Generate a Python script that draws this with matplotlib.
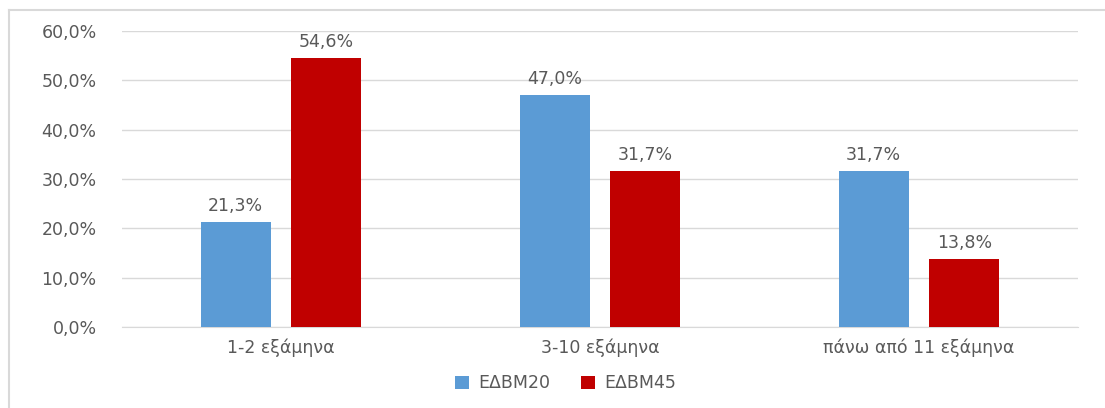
import matplotlib
matplotlib.use("Agg")
import matplotlib.pyplot as plt
from matplotlib.lines import Line2D
import numpy as np

categories = ["1-2 εξάμηνα", "3-10 εξάμηνα", "πάνω από 11 εξάμηνα"]
edbm20 = [21.3, 47.0, 31.7]
edbm45 = [54.6, 31.7, 13.8]
series_names = ["ΕΔΒΜ20", "ΕΔΒΜ45"]
yticks = [0, 10, 20, 30, 40, 50, 60]

plt.rcParams["font.family"] = ["DejaVu Sans"]
text_col = "#595959"
fs = 12.5

fig = plt.figure(figsize=(11.05, 4.08), dpi=100)
ax = fig.add_axes([0.110, 0.1985, 0.866, 0.7255])

x = np.arange(len(categories))
w = 0.219
b1 = ax.bar(x - 0.142, edbm20, w, color="#5B9BD5", label=series_names[0], zorder=3)
b2 = ax.bar(x + 0.142, edbm45, w, color="#C00000", label=series_names[1], zorder=3)

for bars in (b1, b2):
    for r in bars:
        h = r.get_height()
        ax.annotate(f"{h:.1f}%".replace(".", ","), (r.get_x() + r.get_width() / 2, h),
                    xytext=(0, 5), textcoords="offset points", ha="center", va="bottom",
                    fontsize=fs, color=text_col)

ax.set_xlim(-0.5, 2.5)
ax.set_ylim(0, 60)
ax.set_yticks(yticks)
ax.set_yticklabels([f"{t:.1f}%".replace(".", ",") for t in yticks])
ax.set_xticks(x)
ax.set_xticklabels(categories)
ax.tick_params(axis="both", length=0, labelsize=fs, colors=text_col)
ax.tick_params(axis="y", pad=18)
ax.tick_params(axis="x", pad=8)
ax.grid(axis="y", color="#D9D9D9", linewidth=1, zorder=0)
for s in ["top", "right", "left"]:
    ax.spines[s].set_visible(False)
ax.spines["bottom"].set_color("#D9D9D9")

ax.legend(loc="center", bbox_to_anchor=(0.464, -0.19), ncol=2, frameon=False,
          fontsize=fs, labelcolor=text_col, handlelength=0.8, handleheight=0.8,
          columnspacing=1.8, handletextpad=0.5)

# chart frame
fig.add_artist(Line2D([9 / 1105, 9 / 1105], [0, 1 - 10 / 408], color="#D9D9D9", lw=1.5))
fig.add_artist(Line2D([9 / 1105, 1], [1 - 10 / 408, 1 - 10 / 408], color="#D9D9D9", lw=1.5))

fig.savefig("out.png", dpi=100)
